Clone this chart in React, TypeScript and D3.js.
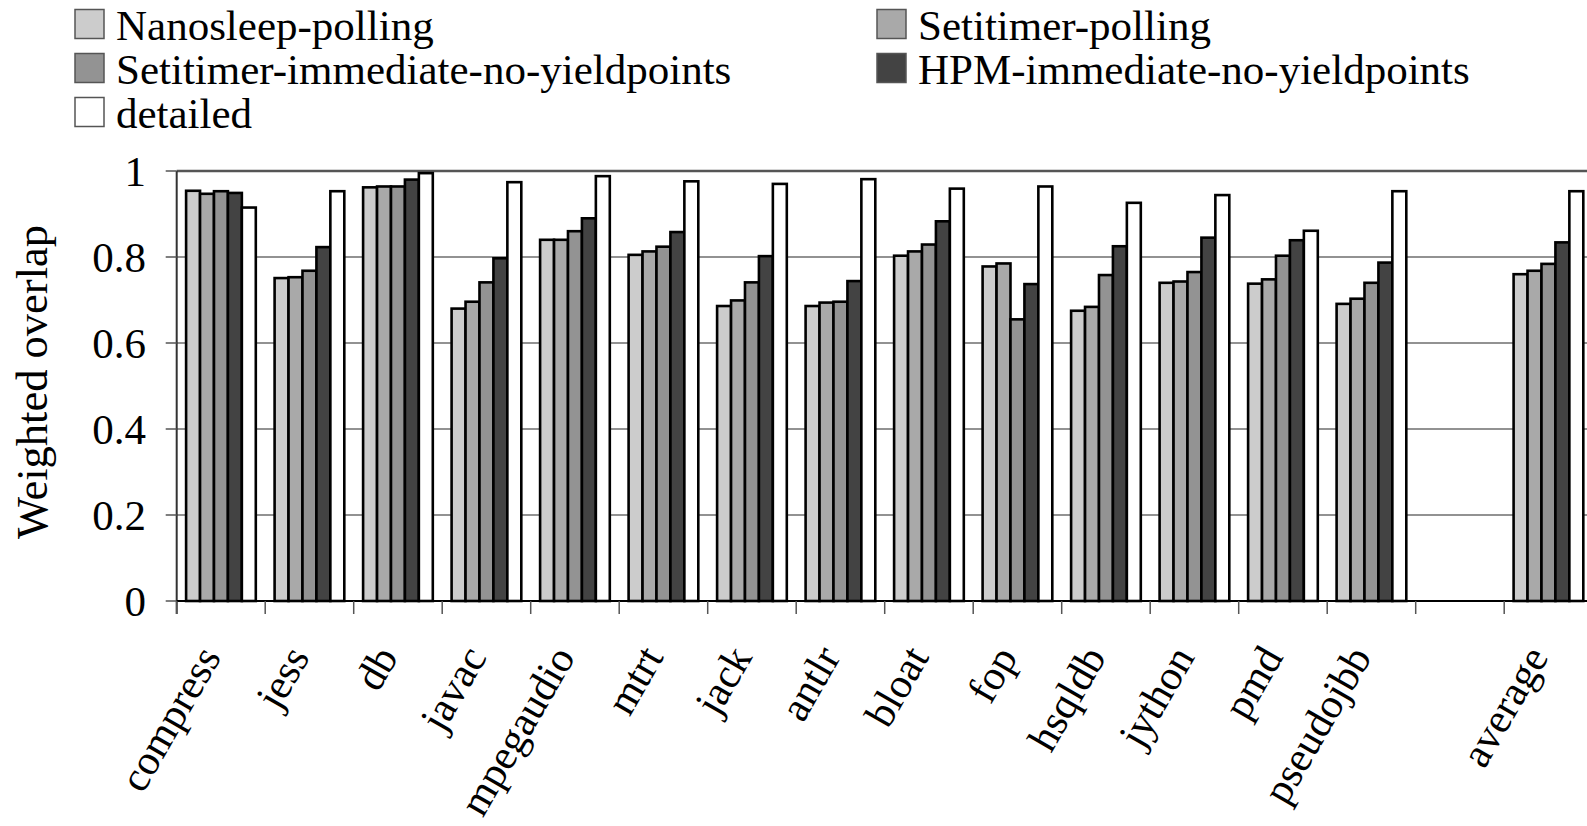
import React from "react";
import * as d3 from "d3";

// Benchmarks shown on the x axis (a blank slot separates "average")
const categories = [
  "compress", "jess", "db", "javac", "mpegaudio", "mtrt", "jack", "antlr",
  "bloat", "fop", "hsqldb", "jython", "pmd", "pseudojbb", "average",
];

// Weighted overlap per benchmark, one array per configuration
const nanosleepPolling = [0.954, 0.751, 0.962, 0.680, 0.840, 0.805, 0.686, 0.686, 0.803, 0.778, 0.675, 0.740, 0.738, 0.691, 0.760];
const setitimerPolling = [0.947, 0.753, 0.964, 0.696, 0.840, 0.813, 0.699, 0.694, 0.813, 0.785, 0.684, 0.743, 0.748, 0.703, 0.768];
const setitimerImmediate = [0.953, 0.768, 0.964, 0.741, 0.860, 0.824, 0.741, 0.696, 0.829, 0.655, 0.758, 0.765, 0.803, 0.740, 0.784];
const hpmImmediate = [0.949, 0.823, 0.980, 0.797, 0.890, 0.858, 0.802, 0.744, 0.883, 0.737, 0.825, 0.845, 0.839, 0.787, 0.834];
const detailed = [0.915, 0.953, 0.995, 0.974, 0.988, 0.976, 0.970, 0.981, 0.959, 0.964, 0.926, 0.944, 0.861, 0.953, 0.953];

const seriesNames = [
  "Nanosleep-polling",
  "Setitimer-polling",
  "Setitimer-immediate-no-yieldpoints",
  "HPM-immediate-no-yieldpoints",
  "detailed",
];
const seriesValues = [nanosleepPolling, setitimerPolling, setitimerImmediate, hpmImmediate, detailed];
const seriesColors = ["#cccccc", "#a9a9a9", "#939393", "#434343", "#ffffff"];

const yTicks = [0, 0.2, 0.4, 0.6, 0.8, 1];

const W = 1587;
const H = 826;
const family = '"Liberation Serif", "Times New Roman", Times, serif';
const textStyle: React.CSSProperties = { fontFamily: family, fontSize: 43 };
const categoryStyle: React.CSSProperties = { fontFamily: family, fontSize: 42 };
const titleStyle: React.CSSProperties = { fontFamily: family, fontSize: 44.5 };

export default function App() {
  const left = 176.7;
  const slotW = 88.5;
  const slots = [...categories.slice(0, 14), "__gap__", categories[14]];
  const x = d3.scaleBand<string>().domain(slots).range([left, left + slotW * slots.length]);
  const inner = d3.scaleBand<string>().domain(seriesNames).range([9.4, slotW - 9.4]);
  const y = d3.scaleLinear().domain([0, 1]).range([601, 171]);

  const legendPos = [
    { x: 75, y: 9.5 },
    { x: 877, y: 9.5 },
    { x: 75, y: 53.5 },
    { x: 877, y: 53.5 },
    { x: 75, y: 97.5 },
  ];

  const right = left + slotW * slots.length;

  return (
    <svg
      width={W}
      height={H}
      style={{ position: "absolute", left: 0, top: 0, background: "#fff" }}
    >
      {/* legend */}
      {seriesNames.map((name, i) => (
        <g key={name}>
          <rect
            x={legendPos[i].x}
            y={legendPos[i].y}
            width={29}
            height={29}
            fill={seriesColors[i]}
            stroke="#555"
            strokeWidth={1.5}
          />
          <text x={legendPos[i].x + 41} y={legendPos[i].y + 30} style={textStyle} fill="#000">
            {name}
          </text>
        </g>
      ))}

      {/* horizontal gridlines */}
      {yTicks.filter((t) => t > 0 && t < 1).map((t) => (
        <line key={t} x1={left} x2={right} y1={y(t)} y2={y(t)} stroke="#6e6e6e" strokeWidth={1.5} />
      ))}
      <line x1={left} x2={right} y1={y(1)} y2={y(1)} stroke="#555" strokeWidth={2.5} />

      {/* bars */}
      {categories.map((c, ci) => (
        <g key={c} transform={`translate(${x(c)},0)`}>
          {seriesNames.map((s, si) => {
            const v = seriesValues[si][ci];
            return (
              <rect
                key={s}
                x={inner(s)}
                y={y(v)}
                width={inner.bandwidth()}
                height={y(0) - y(v)}
                fill={seriesColors[si]}
                stroke="#000"
                strokeWidth={2.6}
              />
            );
          })}
        </g>
      ))}

      {/* y axis */}
      <line x1={left} x2={left} y1={y(1)} y2={614} stroke="#333" strokeWidth={2} />
      {yTicks.map((t) => (
        <g key={t}>
          <line x1={165.7} x2={left} y1={y(t)} y2={y(t)} stroke="#555" strokeWidth={1.5} />
          <text x={146} y={y(t)} dy="0.35em" textAnchor="end" style={textStyle} fill="#000">
            {d3.format("")(t)}
          </text>
        </g>
      ))}
      <text
        transform={`translate(47,382) rotate(-90)`}
        textAnchor="middle"
        style={titleStyle}
        fill="#000"
      >
        Weighted overlap
      </text>

      {/* x axis */}
      <line x1={left} x2={right} y1={y(0)} y2={y(0)} stroke="#000" strokeWidth={2.2} />
      {slots.map((s) => (
        <line
          key={s}
          x1={x(s)!}
          x2={x(s)!}
          y1={y(0)}
          y2={614}
          stroke="#555"
          strokeWidth={1.5}
        />
      ))}
      {categories.map((c) => {
        const cx = x(c)! + x.bandwidth() / 2;
        return (
          <text
            key={c}
            transform={`translate(${cx + 1},657) rotate(-60)`}
            textAnchor="end"
            style={categoryStyle}
            fill="#000"
          >
            {c}
          </text>
        );
      })}
    </svg>
  );
}
